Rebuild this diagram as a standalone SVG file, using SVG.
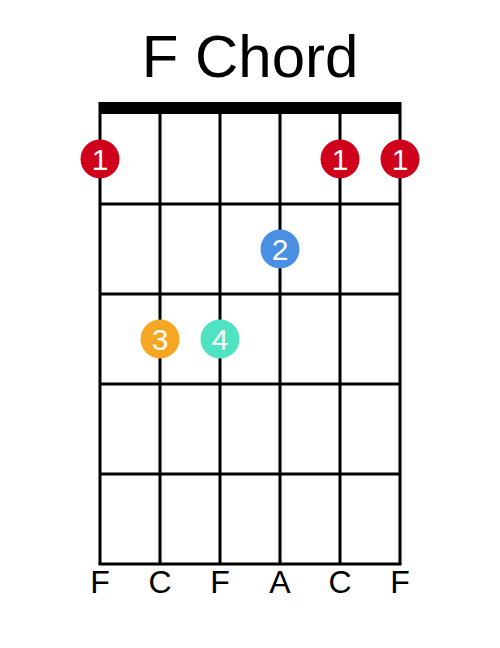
<svg xmlns="http://www.w3.org/2000/svg" width="500" height="648" viewBox="0 0 500 648">
<style>
.s{stroke:#000;stroke-width:3;fill:none}
.lbl{font-family:"Liberation Sans",Arial,sans-serif;font-size:32px;fill:#000;text-anchor:middle}
.num{font-family:"Liberation Sans",Arial,sans-serif;font-size:30px;fill:#fff;text-anchor:middle}
</style>
<rect width="500" height="648" fill="#fff"/>
<text id="title" x="250" y="77" font-family="Liberation Sans, Arial, sans-serif" font-size="60" text-anchor="middle">F Chord</text>
<g id="grid">
<rect x="98.5" y="102" width="303" height="12" fill="#000"/>
<g class="s">
<line x1="100" y1="114" x2="100" y2="564"/>
<line x1="160" y1="114" x2="160" y2="564"/>
<line x1="220" y1="114" x2="220" y2="564"/>
<line x1="280" y1="114" x2="280" y2="564"/>
<line x1="340" y1="114" x2="340" y2="564"/>
<line x1="400" y1="114" x2="400" y2="564"/>
<line x1="100" y1="204" x2="400" y2="204"/>
<line x1="100" y1="294" x2="400" y2="294"/>
<line x1="100" y1="384" x2="400" y2="384"/>
<line x1="100" y1="474" x2="400" y2="474"/>
<line x1="98.5" y1="564" x2="401.5" y2="564"/>
</g>
</g>
<g id="labels">
<text class="lbl" x="100" y="593">F</text>
<text class="lbl" x="160" y="593">C</text>
<text class="lbl" x="220" y="593">F</text>
<text class="lbl" x="280" y="593">A</text>
<text class="lbl" x="340" y="593">C</text>
<text class="lbl" x="400" y="593">F</text>
</g>
<g id="dot1a"><circle cx="100" cy="159" r="19.5" fill="#D0021B"/><text class="num" x="100" y="170">1</text></g>
<g id="dot1b"><circle cx="340" cy="159" r="19.5" fill="#D0021B"/><text class="num" x="340" y="170">1</text></g>
<g id="dot1c"><circle cx="400" cy="159" r="19.5" fill="#D0021B"/><text class="num" x="400" y="170">1</text></g>
<g id="dot2"><circle cx="280" cy="249" r="19.5" fill="#4A90E2"/><text class="num" x="280" y="260">2</text></g>
<g id="dot3"><circle cx="160" cy="339" r="19.5" fill="#F5A623"/><text class="num" x="160" y="350">3</text></g>
<g id="dot4"><circle cx="220" cy="339" r="19.5" fill="#50E3C2"/><text class="num" x="220" y="350">4</text></g>
</svg>
